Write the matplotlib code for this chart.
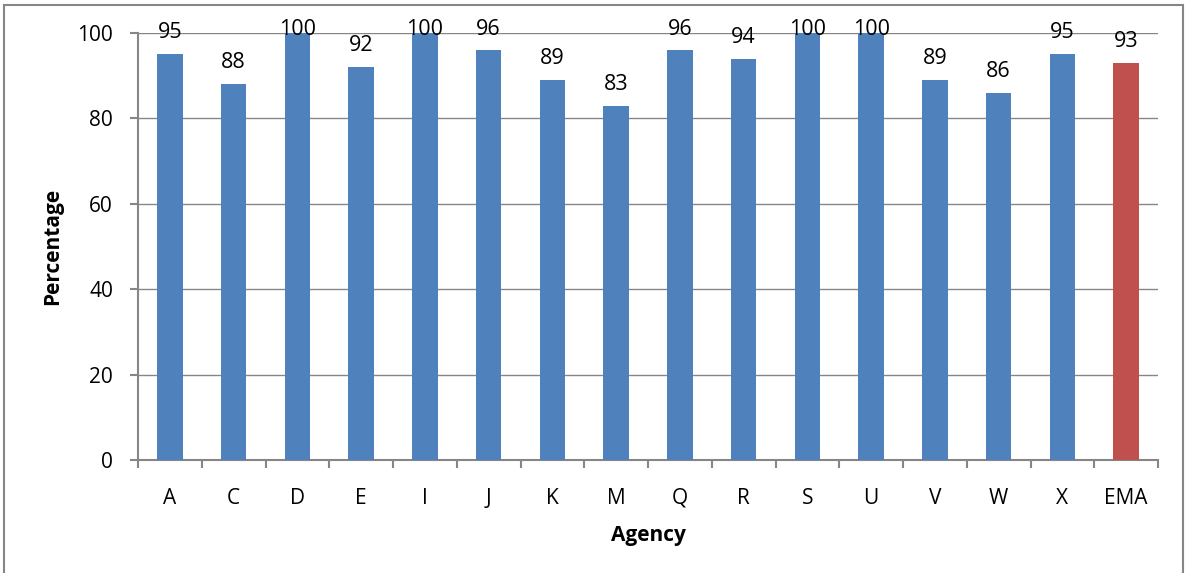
import matplotlib.pyplot as plt
from matplotlib.patches import Rectangle

agencies = ["A", "C", "D", "E", "I", "J", "K", "M", "Q", "R", "S", "U", "V", "W", "X", "EMA"]
percent = [95, 88, 100, 92, 100, 96, 89, 83, 96, 94, 100, 100, 89, 86, 95, 93]
colors = ["#4F81BD"] * 15 + ["#C0504D"]

plt.rcParams["font.family"] = ["Open Sans", "DejaVu Sans"]

fig = plt.figure(figsize=(11.86, 5.73), dpi=100)
ax = fig.add_axes([138 / 1186, 1 - 460 / 573, 1020 / 1186, 427 / 573])

x = list(range(len(agencies)))
ax.bar(x, percent, width=0.4, color=colors, zorder=3)
# labels sit ~16px above the bar, but are kept inside the chart at the top
for xi, v in zip(x, percent):
    ax.text(xi, min(v + 3.75, 99.5), str(v), ha="center", va="baseline",
            fontsize=15.5, zorder=4, clip_on=False)

ax.set_xlim(-0.5, len(agencies) - 0.5)
ax.set_ylim(0, 100)
ax.set_yticks(range(0, 101, 20))
ax.set_xticks(x)
ax.set_xticklabels(agencies)
ax.set_xticks([i - 0.5 for i in range(len(agencies) + 1)], minor=True)
ax.tick_params(axis="x", which="major", length=0, pad=20, labelsize=15)
ax.tick_params(axis="x", which="minor", length=6, color="#868686", width=1.5)
ax.tick_params(axis="y", length=6, color="#868686", width=1.5, labelsize=15, pad=12)
ax.grid(axis="y", color="#868686", linewidth=1, zorder=0)
for s in ["top", "right"]:
    ax.spines[s].set_visible(False)
for s in ["left", "bottom"]:
    ax.spines[s].set_color("#868686")
    ax.spines[s].set_linewidth(1.5)

ax.set_ylabel("Percentage", fontsize=15, fontweight="bold", labelpad=10)
ax.set_xlabel("Agency", fontsize=15, fontweight="bold", labelpad=12)

fig.patches.append(Rectangle((4 / 1186, -0.02), 1179 / 1186, 1 - 5 / 573 + 0.02,
                             transform=fig.transFigure, fill=False,
                             edgecolor="#868686", linewidth=1.5))

fig.savefig("out.png", dpi=100)
